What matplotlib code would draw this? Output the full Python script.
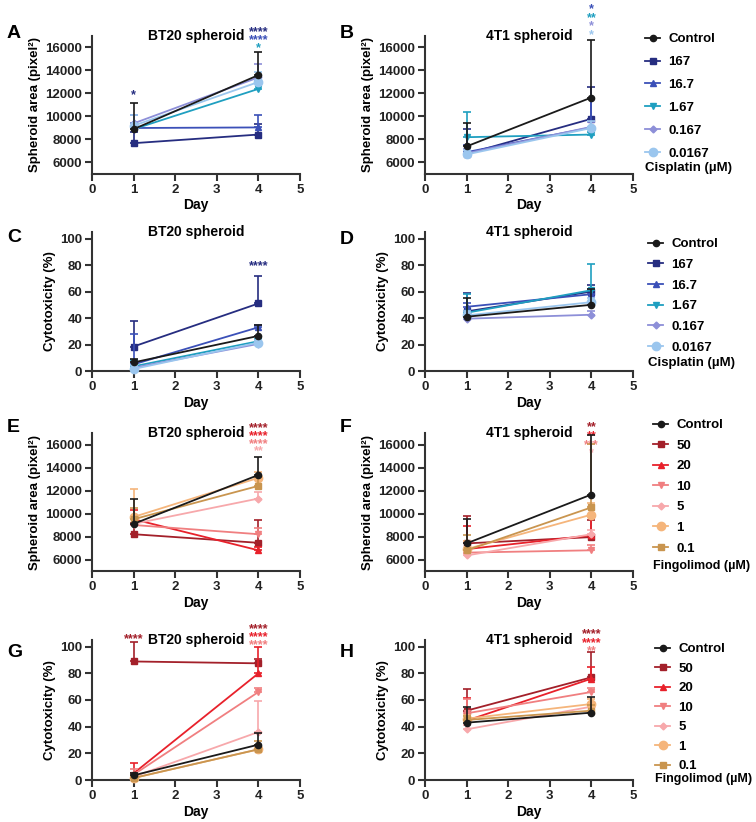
import numpy as np
import matplotlib.pyplot as plt

plt.rcParams['font.family'] = ['Liberation Sans', 'DejaVu Sans']
plt.rcParams['font.weight'] = 'bold'
plt.rcParams['axes.labelweight'] = 'bold'

W, H = 756, 822
fig = plt.figure(figsize=(W / 100, H / 100), dpi=100)

days = [1, 4]

# cisplatin series
cis_labels = ['Control', '167', '16.7', '1.67', '0.167', '0.0167']
cis_colors = ['#1a1a1a', '#262d80', '#3b50b8', '#1f9fc0', '#8d8fd8', '#9bc6ee']
cis_markers = ['o', 's', '^', 'v', 'D', 'o']
cis_sizes = [4.5, 5, 5, 5, 3.5, 6]

# fingolimod series
fin_labels = ['Control', '50', '20', '10', '5', '1', '0.1']
fin_colors = ['#1a1a1a', '#a3202a', '#e8212b', '#f07f80', '#f7a8ab', '#f5b57b', '#c9954f']
fin_markers = ['o', 's', '^', 'v', 'D', 'o', 's']
fin_sizes = [4.5, 5, 5, 5, 3.5, 6, 5]

# A: BT20 spheroid area, cisplatin (mean / upper SD, day 1 and day 4)
a_mean = [[8900, 13600], [7680, 8430], [9000, 9050], [8900, 12400], [9400, 13400], [9200, 13000]]
a_sd = [[2250, 2000], [1000, 900], [1100, 1100], [500, 700], [700, 1200], [900, 900]]
# B: 4T1 spheroid area, cisplatin
b_mean = [[7400, 11650], [6750, 9800], [6900, 9050], [8200, 8430], [6800, 9100], [6700, 9000]]
b_sd = [[2000, 5000], [2200, 2800], [600, 2450], [2150, 200], [400, 400], [400, 600]]
# C: BT20 cytotoxicity, cisplatin
c_mean = [[6.5, 26.5], [18.5, 51], [5, 33], [3.5, 22.5], [2.5, 20.5], [1.5, 21.5]]
c_sd = [[2.5, 8.5], [19, 21], [23, 2], [5, 2], [4, 2], [3, 2]]
# D: 4T1 cytotoxicity, cisplatin
d_mean = [[41, 50], [45, 60], [48.5, 58], [44, 61], [39.5, 42.5], [42, 52]]
d_sd = [[14, 12], [14, 5], [3, 4], [14, 20], [2, 3], [3, 3]]
# E: BT20 spheroid area, fingolimod
e_mean = [[9100, 13350], [8200, 7450], [9500, 6800], [9000, 8200], [9100, 11300], [9700, 13100], [9500, 12400]]
e_sd = [[2200, 1550], [1000, 1950], [800, 300], [700, 500], [600, 600], [2450, 500], [1000, 800]]
# F: 4T1 spheroid area, fingolimod
f_mean = [[7400, 11650], [7400, 7950], [6900, 8100], [6600, 6800], [6350, 8200], [6900, 9900], [6800, 10530]]
f_sd = [[2100, 5200], [2400, 1500], [2000, 1800], [900, 500], [500, 400], [700, 1000], [1300, 5500]]
# G: BT20 cytotoxicity, fingolimod
g_mean = [[3.5, 26.5], [88.9, 87.5], [5, 80], [4, 66], [2.5, 36], [1.5, 23], [1.5, 23]]
g_sd = [[2, 8.5], [14.5, 3.5], [7.5, 20], [4, 3], [2, 23.5], [1, 3], [1, 6]]
# H: 4T1 cytotoxicity, fingolimod
h_mean = [[43, 50.5], [52, 77], [44.5, 76], [50, 66], [38, 55], [46, 57], [45, 52]]
h_sd = [[12, 12], [16, 19], [17, 9], [11, 3], [3, 3], [3, 4], [3, 4]]

axis_col = '#333333'


def panel(x0, top, bottom, means, sds, labels, colors, markers, sizes, area, title):
    ax = fig.add_axes([x0 / W, 1 - bottom / H, 208 / W, (bottom - top) / H])
    lines = {}
    order = list(range(1, len(labels))) + [0]
    for z, i in enumerate(order):
        ax.errorbar(days, means[i], yerr=[[0, 0], sds[i]], fmt='none',
                    ecolor=colors[i], elinewidth=1.2, capsize=3, capthick=1.2,
                    clip_on=False, zorder=2 + z)
        ln, = ax.plot(days, means[i], color=colors[i], lw=1.3, marker=markers[i],
                      ms=sizes[i], clip_on=False, zorder=2 + z, label=labels[i])
        lines[i] = ln
    ax.set_xlim(0, 5)
    ax.set_xticks(range(6))
    if area:
        ax.set_ylim(5000, 17000)
        ax.set_yticks(range(6000, 16001, 2000))
        ax.set_ylabel('Spheroid area (pixel²)', fontsize=9.5, labelpad=3)
    else:
        ax.set_ylim(0, 105)
        ax.set_yticks(range(0, 101, 20))
        ax.set_ylabel('Cytotoxicity (%)', fontsize=9.5, labelpad=3)
    ax.set_xlabel('Day', fontsize=10, labelpad=2)
    for s in ['top', 'right']:
        ax.spines[s].set_visible(False)
    for s in ['left', 'bottom']:
        ax.spines[s].set_linewidth(1.5)
        ax.spines[s].set_color(axis_col)
    ax.tick_params(width=1.5, length=5, labelsize=9.5, color=axis_col, pad=2,
                   labelcolor='#222222')
    ax.text(0.5, 1.0, title, transform=ax.transAxes, ha='center', va='center',
            fontsize=10)
    return ax, [lines[i] for i in range(len(labels))]


def stars(ax, items):
    for day, frac, s, col in items:
        ax.annotate(s, xy=(day, frac), xycoords=('data', 'axes fraction'),
                    xytext=(0, -3), textcoords='offset points', ha='center',
                    va='center', color=col, fontsize=9, fontweight='bold',
                    annotation_clip=False)


rows = [(36, 174), (232, 371), (433, 571), (640, 780)]
xs = [92, 425]

axA, hA = panel(xs[0], *rows[0], a_mean, a_sd, cis_labels, cis_colors, cis_markers, cis_sizes, True, 'BT20 spheroid')
axB, hB = panel(xs[1], *rows[0], b_mean, b_sd, cis_labels, cis_colors, cis_markers, cis_sizes, True, '4T1 spheroid')
axC, hC = panel(xs[0], *rows[1], c_mean, c_sd, cis_labels, cis_colors, cis_markers, cis_sizes, False, 'BT20 spheroid')
axD, hD = panel(xs[1], *rows[1], d_mean, d_sd, cis_labels, cis_colors, cis_markers, cis_sizes, False, '4T1 spheroid')
axE, hE = panel(xs[0], *rows[2], e_mean, e_sd, fin_labels, fin_colors, fin_markers, fin_sizes, True, 'BT20 spheroid')
axF, hF = panel(xs[1], *rows[2], f_mean, f_sd, fin_labels, fin_colors, fin_markers, fin_sizes, True, '4T1 spheroid')
axG, hG = panel(xs[0], *rows[3], g_mean, g_sd, fin_labels, fin_colors, fin_markers, fin_sizes, False, 'BT20 spheroid')
axH, hH = panel(xs[1], *rows[3], h_mean, h_sd, fin_labels, fin_colors, fin_markers, fin_sizes, False, '4T1 spheroid')

cc, fc = cis_colors, fin_colors
stars(axA, [(4, 1.058, '****', cc[1]), (4, 1.0, '****', cc[2]), (4, 0.942, '*', cc[3]),
            (1, 0.60, '*', cc[1])])
stars(axB, [(4, 1.225, '*', cc[2]), (4, 1.159, '**', cc[3]), (4, 1.101, '*', cc[4]),
            (4, 1.036, '*', cc[5])])
stars(axC, [(4, 0.784, '****', cc[1])])
stars(axE, [(4, 1.065, '****', fc[1]), (4, 1.007, '****', fc[2]), (4, 0.949, '****', fc[3]),
            (4, 0.899, '**', fc[4])])
stars(axF, [(4, 1.072, '**', fc[1]), (4, 1.007, '**', fc[2]), (4, 0.942, '***', fc[3]),
            (4, 0.884, '*', fc[4])])
stars(axG, [(1, 1.036, '****', fc[1]), (4, 1.107, '****', fc[1]), (4, 1.05, '****', fc[2]),
            (4, 0.993, '****', fc[3])])
stars(axH, [(4, 1.071, '****', fc[1]), (4, 1.007, '****', fc[2]), (4, 0.95, '**', fc[3])])

# legends (handle left x, top y, label spacing, title, title y, title size)
legs = [(hB, 645, 33, 0.81, 'Cisplatin (µM)', 168, 9.5),
        (hD, 648, 238, 0.64, 'Cisplatin (µM)', 363, 9.5),
        (hF, 653, 419, 0.63, 'Fingolimod (µM)', 566, 9),
        (hH, 655, 643, 0.55, 'Fingolimod (µM)', 779, 9)]
for hs, lx, ly, sp, ttl, ty, tsz in legs:
    fig.legend(handles=hs, loc='upper left', bbox_to_anchor=(lx / W, 1 - ly / H),
               frameon=False, fontsize=9.5, handlelength=1.15, handletextpad=0.6,
               labelspacing=sp, borderpad=0, borderaxespad=0)
    fig.text(lx / W, 1 - ty / H, ttl, fontsize=tsz, ha='left', va='center')

letters = [('A', 7, 33), ('B', 340, 33), ('C', 7, 238), ('D', 340, 240),
           ('E', 7, 427), ('F', 340, 427), ('G', 7, 652), ('H', 340, 652)]
for t, x, y in letters:
    fig.text(x / W, 1 - y / H, t, fontsize=14, ha='left', va='center')

fig.savefig('out.png', dpi=100)
